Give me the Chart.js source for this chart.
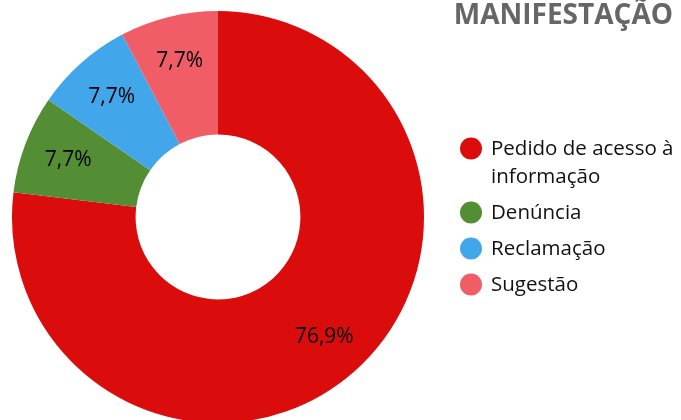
<!DOCTYPE html>
<html>
<head>
<meta charset="utf-8">
<script src="https://cdn.jsdelivr.net/npm/chart.js@4"></script>
<style>
  html, body { margin: 0; padding: 0; background: #ffffff; }
  #wrap { width: 681px; height: 420px; position: relative; }
</style>
</head>
<body>
<div id="wrap"><canvas id="c" width="681" height="420"></canvas></div>
<script>
// ---- data ----
const chartTitle = "MANIFESTAÇÃO";
const categories = ["Pedido de acesso à informação", "Denúncia", "Reclamação", "Sugestão"];
const values = [10, 1, 1, 1];
const valueLabels = ["76,9%", "7,7%", "7,7%", "7,7%"];
const colors = ["#db0c0c", "#548e34", "#42a6ea", "#f05d67"];

const FONT = "'Open Sans', 'Noto Sans', sans-serif";

const labelPlugin = {
  id: 'sliceLabels',
  afterDatasetsDraw(chart) {
    const ctx = chart.ctx;
    const meta = chart.getDatasetMeta(0);
    ctx.save();
    ctx.font = "21px " + FONT;
    ctx.fillStyle = "#000000";
    ctx.textAlign = "center";
    ctx.textBaseline = "middle";
    meta.data.forEach((arc, i) => {
      const p = arc.getProps(['x', 'y', 'startAngle', 'endAngle', 'innerRadius', 'outerRadius'], true);
      const mid = (p.startAngle + p.endAngle) / 2;
      const r = p.innerRadius + 0.63 * (p.outerRadius - p.innerRadius);
      ctx.fillText(valueLabels[i], p.x + Math.cos(mid) * r, p.y + Math.sin(mid) * r);
    });
    ctx.restore();
  }
};

const legendPlugin = {
  id: 'sideLegend',
  afterDraw(chart) {
    const ctx = chart.ctx;
    ctx.save();
    // title
    ctx.font = "bold 28px " + FONT;
    ctx.fillStyle = "#666666";
    ctx.textAlign = "right";
    ctx.textBaseline = "alphabetic";
    ctx.fillText(chartTitle, 673, 24);

    // legend
    ctx.font = "20.5px " + FONT;
    ctx.textAlign = "left";
    ctx.textBaseline = "middle";
    const dotX = 471, textX = 491, maxW = 681 - textX - 2;
    let y = 148.5;
    chart.data.labels.forEach((lab, i) => {
      const words = lab.split(' ');
      const lines = [];
      let cur = '';
      words.forEach(w => {
        const t = cur ? cur + ' ' + w : w;
        if (ctx.measureText(t).width > maxW && cur) { lines.push(cur); cur = w; }
        else cur = t;
      });
      lines.push(cur);
      ctx.fillStyle = chart.data.datasets[0].backgroundColor[i];
      ctx.beginPath();
      ctx.arc(dotX, y, 11, 0, Math.PI * 2);
      ctx.fill();
      ctx.fillStyle = "#111111";
      lines.forEach((ln, k) => ctx.fillText(ln, textX, y + 1 + k * 28));
      y += 36 + (lines.length - 1) * 28;
    });
    ctx.restore();
  }
};

new Chart(document.getElementById('c'), {
  type: 'doughnut',
  data: {
    labels: categories,
    datasets: [{
      data: values,
      backgroundColor: colors,
      borderWidth: 0,
      radius: 206,
      cutout: '40%'
    }]
  },
  options: {
    responsive: false,
    animation: false,
    layout: { padding: { top: 14, bottom: 0, left: 0, right: 245 } },
    plugins: {
      legend: { display: false },
      tooltip: { enabled: false },
      title: { display: false }
    }
  },
  plugins: [labelPlugin, legendPlugin]
});
</script>
</body>
</html>
